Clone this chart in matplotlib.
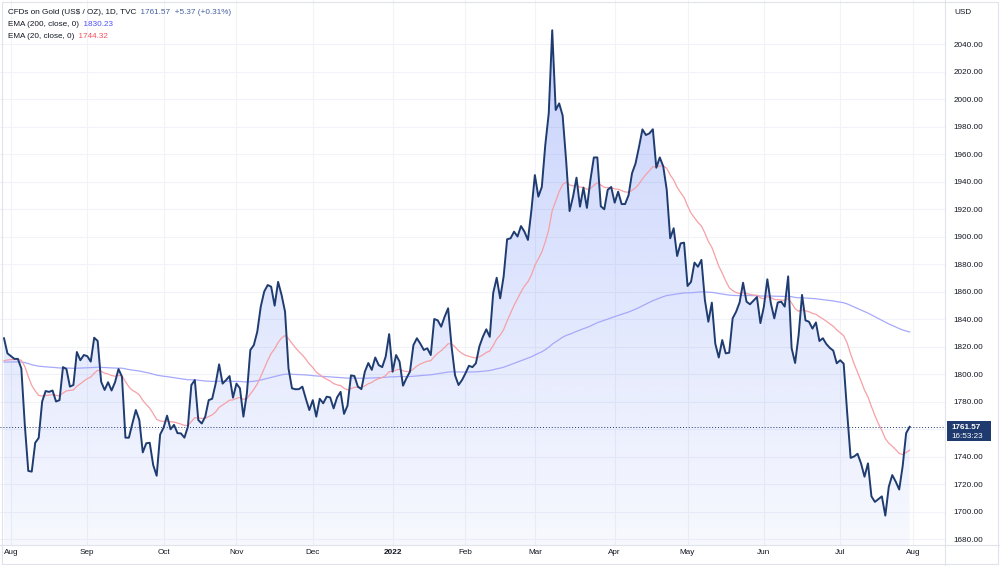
import numpy as np
import pandas as pd
import matplotlib
matplotlib.use('Agg')
import matplotlib.pyplot as plt
from matplotlib.patches import Polygon, Rectangle
from matplotlib.lines import Line2D
import matplotlib.transforms as mtransforms

plt.rcParams['font.family'] = ['Liberation Sans', 'DejaVu Sans']

# daily closes, one row per week (Mon..Fri), first row starts Thu 2021-07-29
start = '2021-07-29'
close = [
    1826, 1815,
    1813, 1811, 1811, 1804, 1763,
    1729.5, 1729, 1750, 1753.5, 1780,
    1787.6, 1787, 1788, 1780, 1781,
    1805, 1803.6, 1790.8, 1792, 1816,
    1810, 1813.8, 1813, 1809, 1826.4,
    1824, 1794.4, 1788.4, 1794, 1788,
    1794, 1803.6, 1798, 1753.7, 1753.7,
    1764, 1773.8, 1766.5, 1743, 1749.6,
    1750, 1733.8, 1726, 1756, 1761,
    1769.7, 1759.8, 1763, 1757, 1756.8,
    1753.7, 1761.7, 1792, 1795.6, 1766.5,
    1764, 1769, 1781, 1782, 1793,
    1807, 1793, 1795.6, 1798.5, 1782.8,
    1793, 1789.6, 1769, 1786, 1817.5,
    1821, 1830.8, 1849, 1860, 1864.7,
    1863.5, 1849.7, 1867, 1857.5, 1845.3,
    1804, 1789.6, 1788.9, 1789, 1790.8,
    1782, 1773.8, 1781, 1769, 1782,
    1778.7, 1783.5, 1783, 1775, 1783,
    1787, 1771, 1777, 1799, 1798.5,
    1790.8, 1789, 1801.7, 1808, 1803,
    1812, 1806.5, 1805, 1812.6, 1829,
    1801.7, 1813.8, 1809, 1791.5, 1797,
    1801.7, 1821, 1826, 1822, 1817.5,
    1818.7, 1813.8, 1840, 1839, 1834.4,
    1841.7, 1847.8, 1819.8, 1799, 1792,
    1795.6, 1800.5, 1806, 1805, 1807.8,
    1820, 1827, 1832.5, 1827, 1859,
    1870, 1855, 1871, 1898, 1898.7,
    1903.5, 1900, 1907.6, 1903.5, 1897.5,
    1919, 1944.7, 1929, 1936, 1966.5,
    1989.6, 2050, 1992, 1996.8, 1988,
    1955.6, 1918.5, 1929, 1942.8, 1921.7,
    1935.5, 1920.8, 1941, 1957.5, 1957.5,
    1922, 1919.8, 1934, 1936, 1924.6,
    1932.6, 1923.6, 1923.6, 1930, 1946,
    1953, 1965, 1977.9, 1973.8, 1975,
    1978, 1950, 1957.5, 1951, 1934,
    1898.7, 1906, 1885.8, 1895, 1895.5,
    1864, 1867, 1881, 1878, 1883,
    1853.8, 1838, 1851.9, 1822, 1812,
    1824.7, 1815, 1815.5, 1840.5, 1845.3,
    1852, 1866.4, 1852.6, 1850.7, 1853.3,
    1856, 1837, 1849, 1868.9, 1851.5,
    1840.5, 1852, 1852.6, 1849, 1871,
    1818.7, 1808, 1828, 1857.5, 1839,
    1838, 1833, 1837.5, 1824, 1826,
    1821.8, 1819, 1817, 1807.8, 1810,
    1807.5, 1772, 1739, 1740, 1742,
    1735, 1725.3, 1735, 1711, 1707,
    1709, 1711, 1697, 1718, 1726.5,
    1721.7, 1716, 1733, 1757, 1761.57,
]

# EMA values just before the first visible bar
ema20_seed = 1808.0
ema200_seed = 1808.5

last_price = 1761.57
last_time = '16:53:23'
change_text = '+5.37 (+0.31%)'
ema200_last = '1830.23'
ema20_last = '1744.32'

price_ticks = list(range(1680, 2041, 20))
month_starts = pd.date_range('2021-08-01', '2022-08-01', freq='MS')
month_labels = ['Aug', 'Sep', 'Oct', 'Nov', 'Dec', '2022', 'Feb', 'Mar',
                'Apr', 'May', 'Jun', 'Jul', 'Aug']

dates = pd.bdate_range(start, periods=len(close))
x = np.arange(len(close))
price = np.array(close)


def ema(values, span, seed):
    s = pd.Series([seed] + list(values))
    return s.ewm(span=span, adjust=False).mean().values[1:]


ema20 = ema(close, 20, ema20_seed)
ema200 = ema(close, 200, ema200_seed)

month_pos = np.searchsorted(dates.values, month_starts.values)

ybot, ytop = 1675.64, 2072.0
xl, xr = -1.15, 271.2
fs = 5.9

fig = plt.figure(figsize=(10, 5.66), dpi=100)
ax = fig.add_axes([0, 21 / 566, 0.945, 545 / 566])
ax.set_facecolor('white')

# area fill with vertical gradient
verts = [(x[0], ybot)] + list(zip(x, price)) + [(x[-1], ybot)]
poly = Polygon(verts, closed=True, facecolor='none', edgecolor='none')
ax.add_patch(poly)
alpha = np.linspace(0.28, 0.04, 256)
img = np.zeros((256, 1, 4))
img[:, 0, 0] = 55 / 255
img[:, 0, 1] = 95 / 255
img[:, 0, 2] = 245 / 255
img[:, 0, 3] = alpha
im = ax.imshow(img, extent=[x[0], x[-1], ybot, price.max()], aspect='auto',
               origin='upper', zorder=1, interpolation='bilinear')
im.set_clip_path(poly)

ax.plot(x, ema200, color='#a6a9fb', linewidth=0.9, zorder=2)
ax.plot(x, ema20, color='#f6a0a6', linewidth=0.9, zorder=2)
ax.plot(x, price, color='#1f3c70', linewidth=1.4, zorder=3)

ax.axhline(last_price, color='#1f3c70', linestyle=(0, (1, 2)), linewidth=0.7, zorder=2)

ax.set_xlim(xl, xr)
ax.set_ylim(ybot, ytop)

ax.set_yticks(price_ticks)
ax.set_yticklabels(['' if t == 1760 else '%.2f' % t for t in price_ticks])
ax.yaxis.tick_right()
ax.set_xticks(month_pos)
ax.set_xticklabels(month_labels)
for lab in ax.get_xticklabels():
    if lab.get_text() == '2022':
        lab.set_fontweight('bold')
ax.tick_params(axis='y', length=0, pad=6, labelsize=fs, colors='#131722')
ax.tick_params(axis='x', length=0, pad=3, labelsize=fs, colors='#131722')
ax.grid(color='#f1f3f8', linewidth=0.8, zorder=0)
ax.set_axisbelow(True)

for side in ['top', 'left', 'bottom']:
    ax.spines[side].set_visible(False)
ax.spines['right'].set_color('#e0e3eb')
ax.spines['right'].set_linewidth(0.8)

# separator lines and outer frame
fig.add_artist(Line2D([0, 1], [21 / 566, 21 / 566], color='#e0e3eb', linewidth=0.8))
fig.add_artist(Line2D([0.945, 0.945], [0, 21 / 566], color='#e0e3eb', linewidth=0.8))
fig.add_artist(Rectangle((0.002, 0.003), 0.996, 0.993, transform=fig.transFigure,
                         fill=False, edgecolor='#e0e3eb', linewidth=0.8))

# last price label on the price scale
trans = mtransforms.blended_transform_factory(ax.transAxes, ax.transData)
ax.add_patch(Rectangle((1.0025, last_price - 14 / 1.375), 0.0465, 20 / 1.375,
                       transform=trans, facecolor='#1e3a6e', edgecolor='none',
                       clip_on=False, zorder=5))
ax.text(1.0065, last_price - 0.5, '%.2f' % last_price, transform=trans, color='white',
        fontsize=fs, fontweight='bold', va='center', ha='left', zorder=6, clip_on=False)
ax.text(1.0065, last_price - 9.6 / 1.375, last_time, transform=trans, color='white',
        fontsize=fs, va='center', ha='left', zorder=6, clip_on=False)

fig.text(0.954, 1 - 12 / 566, 'USD', fontsize=fs, color='#131722', va='center')

# legend lines top-left
t1 = fig.text(0.008, 1 - 13 / 566, r'CFDs on Gold (US\$ / OZ), 1D, TVC', fontsize=fs,
              color='#131722', va='center')
ax.annotate('  %.2f  %s' % (last_price, change_text), xy=(1, 0.5), xycoords=t1,
            fontsize=fs, color='#44609d', va='center', ha='left')
t2 = fig.text(0.008, 1 - 25 / 566, 'EMA (200, close, 0)', fontsize=fs,
              color='#131722', va='center')
ax.annotate('  ' + ema200_last, xy=(1, 0.5), xycoords=t2, fontsize=fs,
            color='#4b4ff5', va='center', ha='left')
t3 = fig.text(0.008, 1 - 36 / 566, 'EMA (20, close, 0)', fontsize=fs,
              color='#131722', va='center')
ax.annotate('  ' + ema20_last, xy=(1, 0.5), xycoords=t3, fontsize=fs,
            color='#f0525f', va='center', ha='left')

fig.savefig('out.png', dpi=100, facecolor='white')
